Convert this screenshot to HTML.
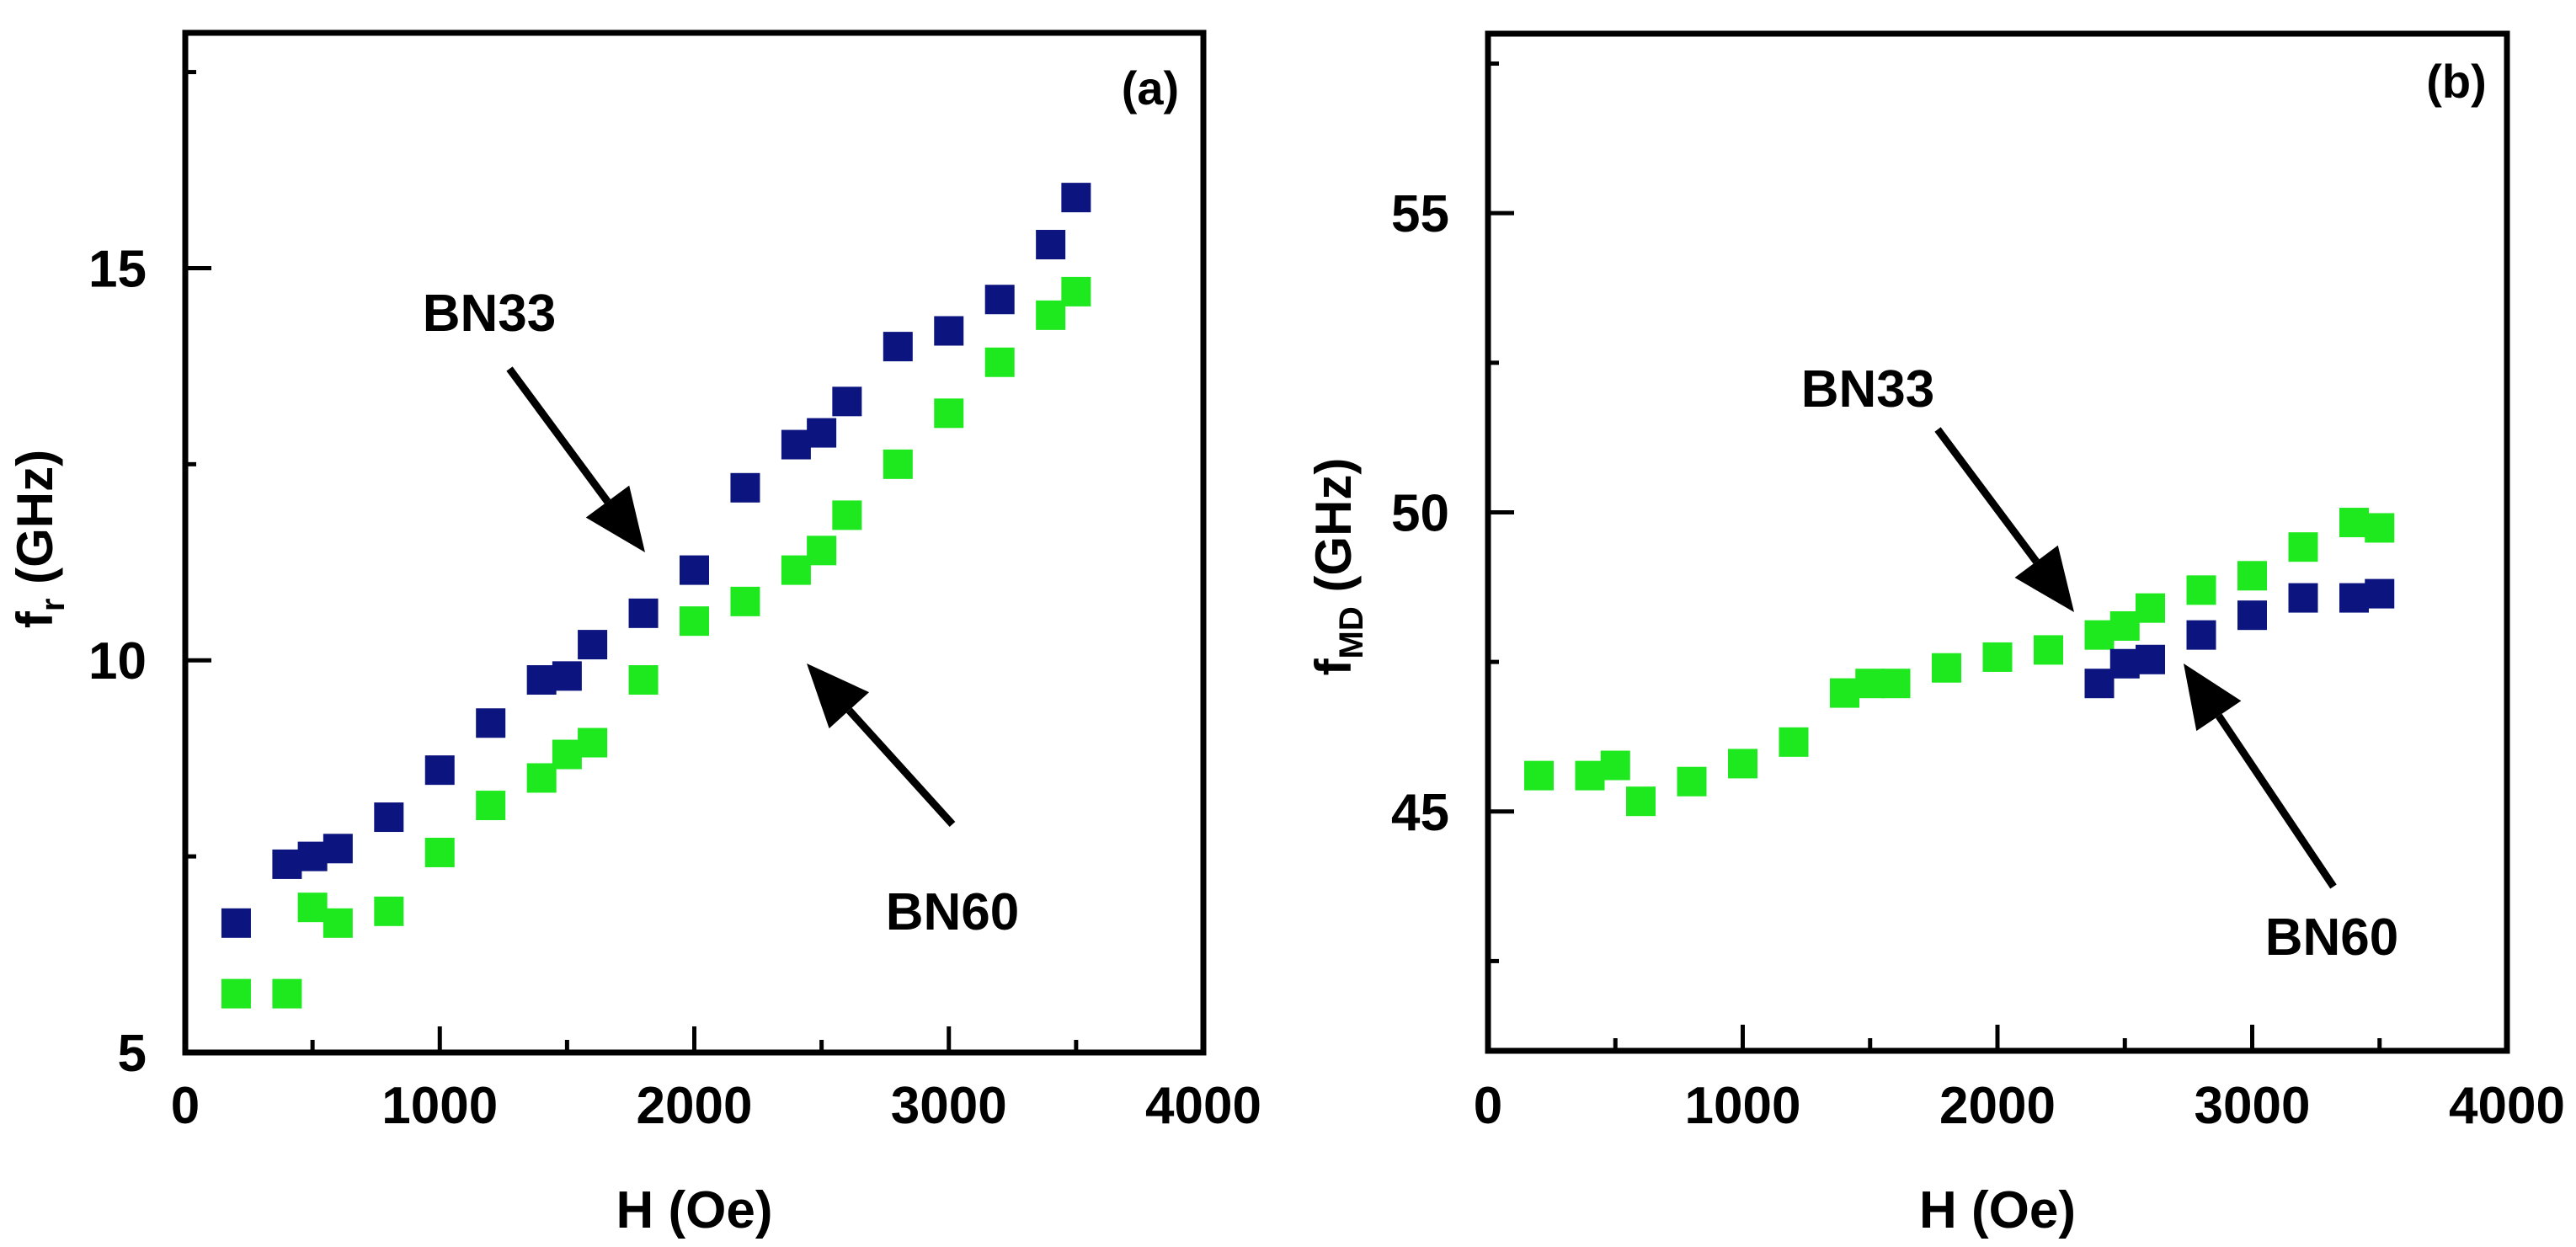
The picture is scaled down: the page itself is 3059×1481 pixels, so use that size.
<!DOCTYPE html>
<html><head><meta charset="utf-8">
<style>
html,body{margin:0;padding:0;background:#fff;}
svg{display:block;}
text{font-family:"Liberation Sans",Arial,sans-serif;font-weight:bold;fill:#000;}
</style></head>
<body>
<svg id="chart" width="3059" height="1481" viewBox="0 0 3059 1481" xmlns="http://www.w3.org/2000/svg">
<rect x="0" y="0" width="3059" height="1481" fill="#fff"/>
<g id="pa"></g>
<g id="pb"></g>
</svg>
<script>
// ---- data ----
const fieldsA = [200,400,500,600,800,1000,1200,1400,1500,1600,1800,2000,2200,2400,2500,2600,2800,3000,3200,3400,3500];
const bn33A = [6.65,7.4,7.5,7.6,8.0,8.6,9.2,9.75,9.8,10.2,10.6,11.15,12.2,12.75,12.9,13.3,14.0,14.2,14.6,15.3,15.9];
const bn60A = [5.75,5.75,6.85,6.65,6.8,7.55,8.15,8.5,8.8,8.95,9.75,10.5,10.75,11.15,11.4,11.85,12.5,13.15,13.8,14.4,14.7];
const fieldsB60 = [200,400,500,600,800,1000,1200,1400,1500,1600,1800,2000,2200,2400,2500,2600,2800,3000,3200,3400,3500];
const bn60B = [45.6,45.6,45.77,45.17,45.5,45.8,46.16,46.98,47.14,47.14,47.4,47.58,47.7,47.95,48.1,48.4,48.7,48.94,49.42,49.83,49.74];
const fieldsB33 = [2400,2500,2600,2800,3000,3200,3400,3500];
const bn33B = [47.14,47.47,47.54,47.95,48.28,48.57,48.57,48.64];
const xTicks = [0,1000,2000,3000,4000];
const yTicksA = [5,10,15];
const yTicksB = [45,50,55];

const NS = "http://www.w3.org/2000/svg";
function mk(parent, tag, attrs){
  const e = document.createElementNS(NS, tag);
  for (const k in attrs) e.setAttribute(k, attrs[k]);
  parent.appendChild(e);
  return e;
}
const NAVY = "#0c1480", GREEN = "#1ee81e";

function panel(g, cfg){
  const {L,R,T,B,xmin,xmax,ymin,ymax} = cfg;
  const sx = v => L + (v - xmin) / (xmax - xmin) * (R - L);
  const sy = v => B - (v - ymin) / (ymax - ymin) * (B - T);
  // markers
  cfg.series.forEach(s => {
    s.xs.forEach((xv, i) => {
      const r = mk(g, "rect", {x: sx(xv) - 17.5, y: sy(s.ys[i]) - 17.5, width: 35, height: 35, fill: s.color});
      
      
    });
  });
  // axes frame
  const fr = mk(g, "rect", {x: L, y: T, width: R - L, height: B - T, fill: "none", stroke: "#000", "stroke-width": 7});
  
  
  // x ticks
  for (let v = xmin; v <= xmax; v += 500) {
    const major = v % 1000 === 0;
    if (v === xmin || v === xmax) continue;
    const t = mk(g, "line", {x1: sx(v), x2: sx(v), y1: B, y2: B - (major ? 31 : 15), stroke: "#000", "stroke-width": 5});
    
    
  }
  xTicks.forEach(v => {
    const t = mk(g, "text", {x: sx(v), y: 1334, "font-size": 62, "text-anchor": "middle"});
    t.textContent = v;
    
    
  });
  // y ticks
  for (let v = cfg.yMinorStart; v < ymax; v += 2.5) {
    const major = cfg.yTicks.some(m => Math.abs(m - v) < 1e-6);
    if (Math.abs(v - ymin) < 1e-6) continue;
    const t = mk(g, "line", {x1: L, x2: L + (major ? 31 : 13), y1: sy(v), y2: sy(v), stroke: "#000", "stroke-width": 5});
    
    
  }
  cfg.yTicks.forEach(v => {
    const t = mk(g, "text", {x: L - 46, y: sy(v) + 22, "font-size": 62, "text-anchor": "end"});
    t.textContent = v;
    
    
  });
  // x title
  const xt = mk(g, "text", {x: (L + R) / 2, y: 1458, "font-size": 62, "text-anchor": "middle"});
  xt.textContent = "H (Oe)";
  
  
  // y title
  const yt = mk(g, "text", {x: 0, y: 0, "font-size": 60, "text-anchor": "middle", transform: `translate(${cfg.ytx},${cfg.yty}) rotate(-90)`});
  
  
  const t1 = mk(yt, "tspan", {}); t1.textContent = "f";
  const t2 = mk(yt, "tspan", {"font-size": 40, dy: 14}); t2.textContent = cfg.sub;
  const t3 = mk(yt, "tspan", {dy: -14}); t3.textContent = " (GHz)";
  // panel label
  const pl = mk(g, "text", {x: cfg.lbl[0], y: cfg.lbl[1] + 22, "font-size": 56, "text-anchor": "middle"});
  pl.textContent = cfg.lblText;
  
  
  // annotations
  cfg.notes.forEach(n => {
    const tx = mk(g, "text", {x: n.tx, y: n.ty + 22, "font-size": 62, "text-anchor": "middle"});
    tx.textContent = n.text;
    
    
    const [x1, y1, x2, y2] = n.a;
    const dx = x2 - x1, dy = y2 - y1, len = Math.hypot(dx, dy), ux = dx / len, uy = dy / len;
    const hl = 75, hw = 32;
    const bx = x2 - ux * hl, by = y2 - uy * hl;
    const ln = mk(g, "line", {x1, y1, x2: bx, y2: by, stroke: "#000", "stroke-width": 9});
    
    
    const hd = mk(g, "polygon", {points: `${x2},${y2} ${bx - uy * hw},${by + ux * hw} ${bx + uy * hw},${by - ux * hw}`, fill: "#000"});
    
    
  });
}

panel(document.getElementById('pa'), {
  L: 220, R: 1429, T: 39, B: 1250, xmin: 0, xmax: 4000, ymin: 5, ymax: 18,
  yTicks: yTicksA, yMinorStart: 5, sub: "r", ytx: 62, yty: 640,
  lbl: [1366, 102], lblText: "(a)",
  series: [{name: 'bn33', xs: fieldsA, ys: bn33A, color: NAVY}, {name: 'bn60', xs: fieldsA, ys: bn60A, color: GREEN}],
  notes: [
    {text: "BN33", tx: 581, ty: 371, a: [605, 438, 766, 656]},
    {text: "BN60", tx: 1131, ty: 1082, a: [1131, 979, 958, 788]}
  ]
});
panel(document.getElementById('pb'), {
  L: 1767, R: 2977, T: 40, B: 1248, xmin: 0, xmax: 4000, ymin: 41, ymax: 58,
  yTicks: yTicksB, yMinorStart: 42.5, sub: "MD", ytx: 1604, yty: 673,
  lbl: [2917, 94], lblText: "(b)",
  series: [{name: 'bn60', xs: fieldsB60, ys: bn60B, color: GREEN}, {name: 'bn33', xs: fieldsB33, ys: bn33B, color: NAVY}],
  notes: [
    {text: "BN33", tx: 2218, ty: 461, a: [2301, 510, 2463, 727]},
    {text: "BN60", tx: 2769, ty: 1112, a: [2771, 1053, 2593, 788]}
  ]
});
</script>
</body></html>
